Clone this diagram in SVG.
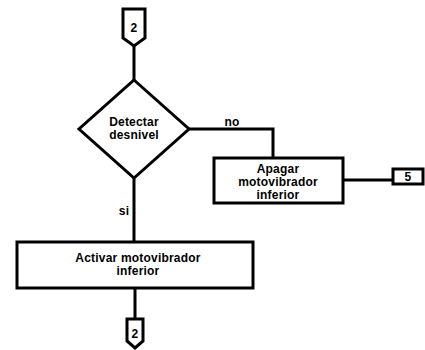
<svg xmlns="http://www.w3.org/2000/svg" width="425" height="350" viewBox="0 0 425 350">
<style>
.s{fill:#fff;stroke:#000;stroke-width:3;stroke-linejoin:miter}
.c{fill:none;stroke:#000;stroke-width:3}
text{font-family:"Liberation Sans",Arial,sans-serif;font-weight:bold;font-size:12px;letter-spacing:0.2px;fill:#000;text-anchor:middle}
</style>
<rect width="425" height="350" fill="#fff"/>
<g id="connectors">
<path class="c" d="M134 46 V80"/>
<path class="c" d="M189 129 H273 V158"/>
<path class="c" d="M343 180 H393"/>
<path class="c" d="M134 178 V242"/>
<path class="c" d="M135 288 V319"/>
<text x="232" y="126">no</text>
<text x="124" y="215">si</text>
</g>
<g id="conn-top">
<path class="s" d="M123 9 H145 V38 L134 46 L123 38 Z"/>
<text x="134" y="32">2</text>
</g>
<g id="decision">
<path class="s" d="M134 80 L189 129 L134 178 L79 129 Z"/>
<text x="134" y="126">Detectar</text>
<text x="134" y="139">desnivel</text>
</g>
<g id="apagar">
<rect class="s" x="214" y="158" width="129" height="45"/>
<text x="278" y="173">Apagar</text>
<text x="278" y="186">motovibrador</text>
<text x="278" y="199">inferior</text>
</g>
<g id="conn-5">
<rect class="s" x="393" y="169" width="30" height="15"/>
<text x="408" y="181">5</text>
</g>
<g id="activar">
<rect class="s" x="17" y="242" width="236" height="46"/>
<text x="138" y="262">Activar motovibrador</text>
<text x="138" y="275">inferior</text>
</g>
<g id="conn-bottom">
<path class="s" d="M127 319 H143 V341 L135 348 L127 341 Z"/>
<text x="135" y="338">2</text>
</g>
</svg>
